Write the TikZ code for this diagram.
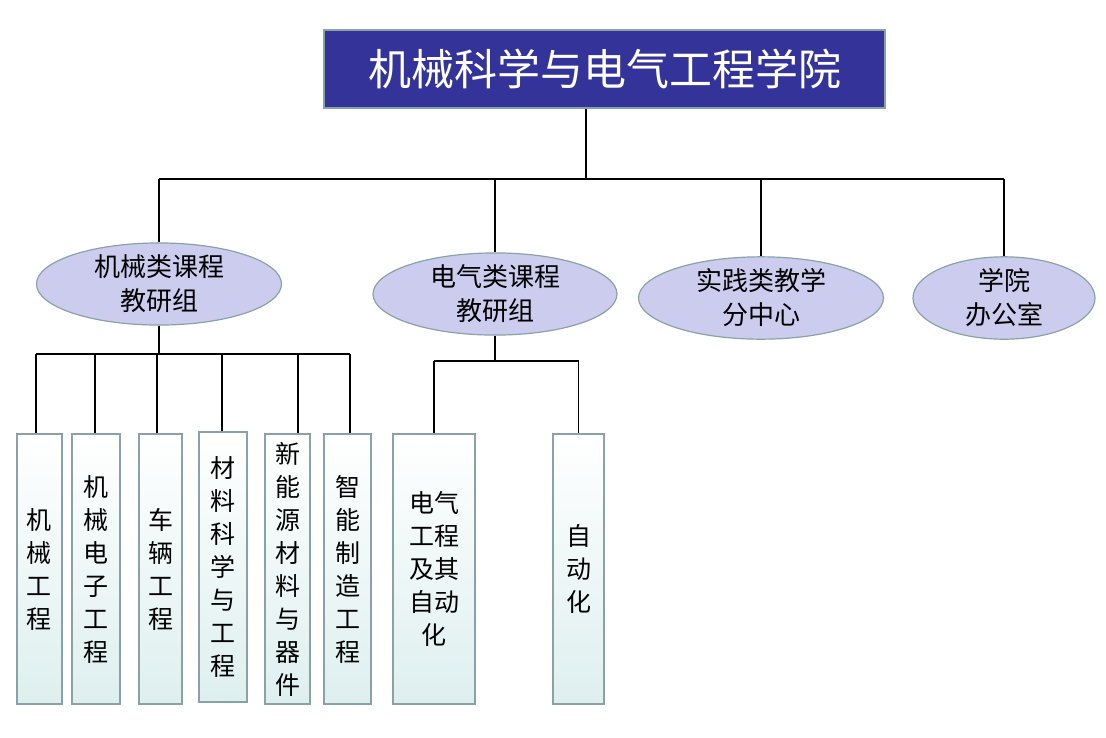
\documentclass[tikz,border=0pt]{standalone}
\usepackage{fontspec}
\newfontfamily\cjk{Noto Sans CJK SC}
\usetikzlibrary{shapes.geometric}
\definecolor{titleblue}{RGB}{51,51,153}
\definecolor{edgegray}{RGB}{138,162,166}
\definecolor{lavender}{RGB}{204,204,238}
\definecolor{paleteal}{RGB}{222,239,239}

\tikzset{
  titlebox/.style={draw=edgegray, line width=2pt, fill=titleblue, text=white,
    minimum width=561pt, minimum height=78pt, inner sep=0pt,
    font=\cjk\fontsize{43}{50}\selectfont},
  groupnode/.style={ellipse, draw=edgegray, line width=1.2pt, fill=lavender,
    inner sep=0pt, align=center, font=\cjk\fontsize{26}{34}\selectfont},
  majorbox/.style={draw=edgegray, line width=2pt, top color=white,
    bottom color=paleteal, minimum height=270pt, inner sep=0pt,
    align=center, font=\cjk\fontsize{25}{33}\selectfont},
  link/.style={line width=1.5pt, black}
}

\begin{document}
\begin{tikzpicture}[x=1pt,y=-1pt]
        \useasboundingbox (0,0) rectangle (1106,737);
        \def\boxmid{569} % vertical centre of the major boxes

        % College
        \node[titlebox] (college) at (604.5,69) {机械科学与电气工程学院};

        % Second level
        \node[groupnode, minimum width=245pt, minimum height=68pt] (mech) at (159,284) {机械类课程\\教研组};
        \node[groupnode, minimum width=244pt, minimum height=72pt] (elec) at (495,294) {电气类课程\\教研组};
        \node[groupnode, minimum width=245pt, minimum height=70pt] (prac) at (761,298) {实践类教学\\分中心};
        \node[groupnode, minimum width=182pt, minimum height=70pt] (office) at (1004,298) {学院\\办公室};

        % Bus from the college to the groups
        \coordinate (topbus) at (586,179);
        \draw[link] (topbus |- college.south) -- (topbus);
        \draw[link] (mech |- topbus) -- (office |- topbus);
        \foreach \g in {mech,elec,prac,office} {
            \draw[link] (\g |- topbus) -- (\g.north);
        }

        % Majors
        \node[majorbox, minimum width=45pt] (b1) at (39.5,\boxmid) {机\\械\\工\\程};
        \node[majorbox, minimum width=48pt] (b2) at (96,\boxmid) {机\\械\\电\\子\\工\\程};
        \node[majorbox, minimum width=43pt] (b3) at (160.5,\boxmid) {车\\辆\\工\\程};
        \node[majorbox, minimum width=48pt] (b4) at (223,567) {材\\料\\科\\学\\与\\工\\程};
        \node[majorbox, minimum width=45pt] (b5) at (287.5,\boxmid) {新\\能\\源\\材\\料\\与\\器\\件};
        \node[majorbox, minimum width=47pt] (b6) at (347.5,\boxmid) {智\\能\\制\\造\\工\\程};
        \node[majorbox, minimum width=82pt] (b7) at (434,\boxmid) {电气\\工程\\及其\\自动\\化};
        \node[majorbox, minimum width=51pt] (b8) at (578.5,\boxmid) {自\\动\\化};

        % Bus below the mechanical group
        \coordinate (busA) at (159,354);
        \draw[link] (mech.south) -- (busA);
        \draw[link] (36,354) -- (350,354);
        \foreach \i/\lx in {1/36, 2/95, 3/157, 4/222, 5/298, 6/350} {
            \draw[link] (\lx,354) -- (\lx,0 |- b\i.north);
        }

        % Bus below the electrical group
        \coordinate (busB) at (495,361);
        \draw[link] (elec.south) -- (busB);
        \draw[link] (b7 |- busB) -- (b8 |- busB);
        \foreach \i in {7,8} {
            \draw[link] (b\i |- busB) -- (b\i.north);
        }
    \end{tikzpicture}
\end{document}
